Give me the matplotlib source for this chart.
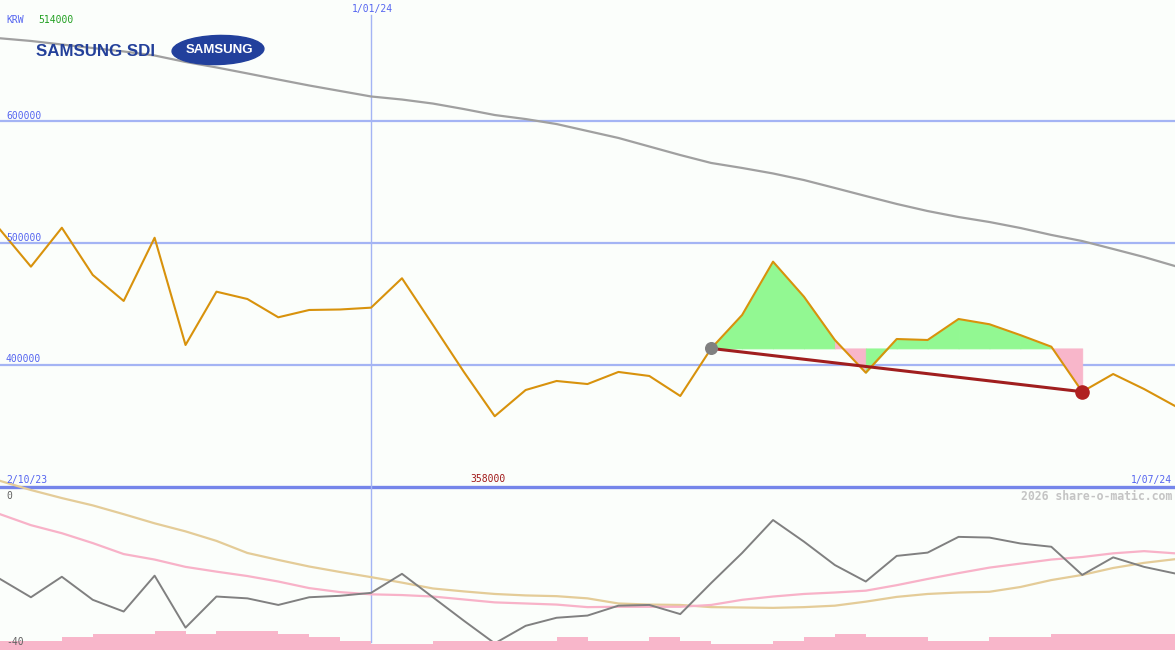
import numpy as np
import pandas as pd
import matplotlib
matplotlib.use('Agg')
import matplotlib.pyplot as plt
from matplotlib.patches import Ellipse

# weekly closes, Samsung SDI (KRW)
dates = pd.date_range('2023-10-09', '2024-07-01', freq='7D')

close = [511000, 480600, 512500, 473800, 452500, 504300, 416400, 460100, 454100, 439100,
         445100, 445500, 447000, 471100, 432900, 394400, 358000, 379500, 386900, 384400,
         394300, 391000, 374600, 413600, 441000, 484700, 456000, 420500, 393700, 421300,
         420500, 437700, 433400, 424500, 415000, 378100, 392600, 380300, 366400]

ma_long = [667800, 665600, 662700, 659800, 657000, 653700, 648400, 643900, 639000, 634000,
           629100, 624600, 620100, 617600, 614300, 609800, 604900, 601600, 597500, 591800,
           586100, 579100, 572100, 565600, 561500, 557000, 551600, 545100, 538500, 532000,
           526200, 521300, 517200, 512300, 506600, 501600, 495100, 488500, 481100]

# lower panel
osc = [-21.3, -26.3, -20.7, -27.0, -30.2, -20.4, -34.6, -26.1, -26.6, -28.4,
       -26.3, -25.9, -25.1, -19.9, -26.3, -32.7, -38.9, -34.1, -31.9, -31.3,
       -28.6, -28.4, -30.9, -22.4, -14.2, -5.2, -11.1, -17.5, -22.0, -15.0,
       -14.1, -9.8, -10.0, -11.6, -12.5, -20.2, -15.4, -18.0, -19.8]

osc_fast = [-3.6, -6.6, -8.8, -11.5, -14.5, -16.0, -18.0, -19.3, -20.5, -22.0,
            -23.8, -24.9, -25.5, -25.7, -26.1, -26.9, -27.7, -28.0, -28.3, -29.0,
            -28.9, -28.9, -28.9, -28.4, -27.0, -26.1, -25.4, -25.0, -24.5, -23.0,
            -21.3, -19.7, -18.2, -17.1, -16.0, -15.3, -14.3, -13.7, -14.3]

osc_slow = [5.5, 3.0, 0.8, -1.2, -3.6, -6.1, -8.3, -10.9, -14.2, -16.1,
            -17.9, -19.4, -20.8, -22.3, -23.9, -24.7, -25.4, -25.8, -26.0, -26.6,
            -28.0, -28.3, -28.4, -29.0, -29.1, -29.2, -29.0, -28.6, -27.5, -26.2,
            -25.4, -25.0, -24.8, -23.5, -21.6, -20.2, -18.3, -16.9, -15.9]

volume = [3, 3, 4, 5, 5, 6, 5, 6, 6, 5, 4, 3, 2, 2, 3, 3, 3, 3, 4, 3,
          3, 4, 3, 2, 2, 3, 4, 5, 4, 4, 3, 3, 4, 4, 5, 5, 5, 5, 5]

start_i = 23
end_i = 35

W, H = 1175, 650
bg = '#fbfefb'
blue_txt = '#5565f0'
grid_c = '#a4b4f4'

fig = plt.figure(figsize=(W / 100, H / 100), dpi=100, facecolor=bg)

def px(x, y):
    return x / W, 1 - y / H

top_h = 487
ax = fig.add_axes([0, (H - top_h) / H, 1, top_h / H])
axb = fig.add_axes([0, 0, 1, (H - top_h) / H])
axv = axb.twinx()

for a in (ax, axb, axv):
    a.set_facecolor('none')
    a.set_xlim(dates[0], dates[-1])
    a.axis('off')
axb.set_zorder(0)
axv.set_zorder(1)

# top panel
ax.set_ylim(300000, 300000 + top_h * 100000 / 122)
for v in (400000, 500000, 600000):
    ax.axhline(v, color=grid_c, lw=1.6, zorder=1)
ax.axhline(300000, color='#7585ea', lw=2.4, zorder=1, clip_on=False)
ax.axvline(pd.Timestamp('2024-01-01'), ymin=0, ymax=1 - 15 / top_h, color=grid_c, lw=1, zorder=1)

ax.plot(dates, ma_long, color='#a0a0a0', lw=1.6, zorder=3)

# gain / loss area against the start close
base = close[start_i]
for i in range(start_i, end_i):
    c = '#92f892' if close[i + 1] >= base else '#f8b6ca'
    ax.fill_between(dates[i:i + 2], close[i:i + 2], base, facecolor=c, edgecolor=c,
                    lw=0.6, zorder=2)

ax.plot(dates, close, color='#d8920c', lw=1.5, zorder=4)
ax.plot([dates[start_i], dates[end_i]], [close[start_i], close[end_i]],
        color='#a01e1e', lw=2.2, zorder=5)
ax.scatter([dates[start_i]], [close[start_i]], s=70, color='#808080', zorder=6)
ax.scatter([dates[end_i]], [close[end_i]], s=90, color='#b02020', zorder=6)

# lower panel
axb.set_ylim(-(H - 501) / 3.66, (501 - top_h) / 3.66)
axv.set_ylim(0, (H - top_h) / 3.15)
axb.axvline(pd.Timestamp('2024-01-01'), ymin=8 / (H - top_h), ymax=1, color=grid_c, lw=1, zorder=1)
axb.plot(dates, osc_slow, color='#e4cc98', lw=1.6, zorder=3, clip_on=False)
axb.plot(dates, osc_fast, color='#f8b2c8', lw=1.6, zorder=3)
axb.plot(dates, osc, color='#808080', lw=1.4, zorder=4)
axv.bar(dates, volume, width=7, align='edge', color='#f8b6ca', lw=0)

# labels
mono = 'DejaVu Sans Mono'
fig.text(*px(6, 20), 'KRW', color=blue_txt, fontsize=7, family=mono, va='center')
fig.text(*px(38, 20), '514000', color='#22a022', fontsize=7, family=mono, va='center')
fig.text(*px(372, 9), '1/01/24', color=blue_txt, fontsize=7, family=mono, va='center', ha='center')
for lab, yy in (('600000', 116), ('500000', 238), ('400000', 359)):
    fig.text(*px(6, yy), lab, color=blue_txt, fontsize=7, family=mono, va='center')
fig.text(*px(6, 480), '2/10/23', color=blue_txt, fontsize=7, family=mono, va='center')
fig.text(*px(488, 479), '358000', color='#a01818', fontsize=7, family=mono, va='center', ha='center')
fig.text(*px(1172, 480), '1/07/24', color=blue_txt, fontsize=7, family=mono, va='center', ha='right')
fig.text(*px(6, 496), '0', color='#606060', fontsize=7, family=mono, va='center')
fig.text(*px(6, 642), '-40', color='#606060', fontsize=7, family=mono, va='center')
fig.text(*px(1172, 496), '2026 share-o-matic.com', color='#c4c4c4', fontsize=8.3,
         family=mono, weight='bold', va='center', ha='right')

# logo
fig.text(*px(36, 51), 'SAMSUNG SDI', color='#23409a', fontsize=12.2, weight='heavy',
         family=['Liberation Sans Narrow', 'Liberation Sans', 'DejaVu Sans'], va='center')
logo = Ellipse(px(218, 50), 92 / W, 29 / H, angle=4, transform=fig.transFigure,
               color='#22409c', zorder=10)
fig.patches.append(logo)
fig.text(*px(219, 50), 'SAMSUNG', color='white', fontsize=9.5, weight='bold',
         family=['Liberation Sans Narrow', 'Liberation Sans', 'DejaVu Sans'],
         va='center', ha='center', zorder=11)

fig.savefig('out.png', dpi=100, facecolor=bg)
